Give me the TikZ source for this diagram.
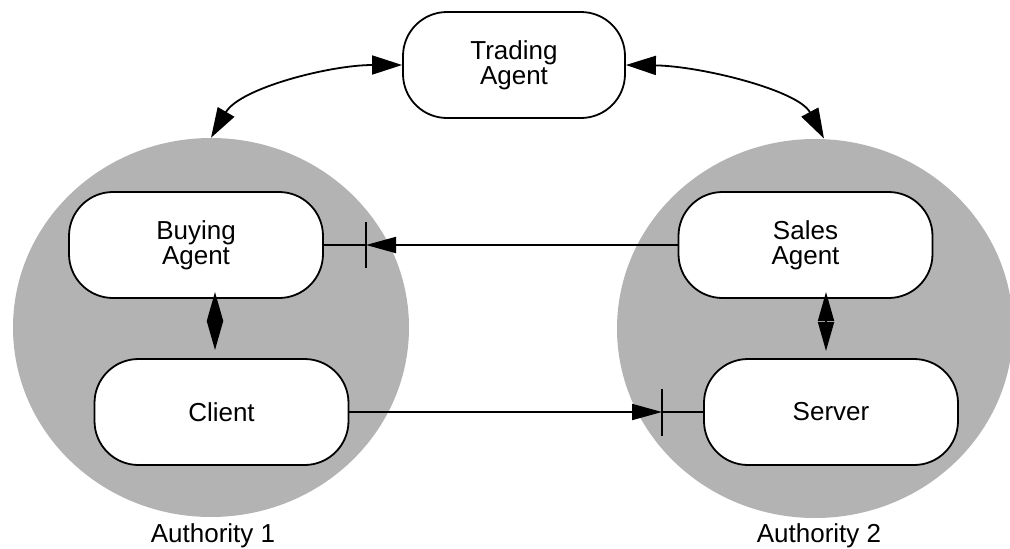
\documentclass[tikz,border=0pt]{standalone}
\usepackage{fontspec}
\setmainfont{Liberation Sans}
\usetikzlibrary{arrows.meta,shapes.geometric}
\definecolor{authgray}{RGB}{179,179,179}
\begin{document}
\begin{tikzpicture}[x=1pt,y=-1pt,
  agentbox/.style={draw, line width=1.8pt, fill=white, rounded corners=44pt,
    minimum width=254pt, minimum height=106pt, inner sep=0pt, align=center,
    font=\fontsize{26}{25}\selectfont},
  authority/.style={ellipse, fill=authgray, minimum width=396pt,
    minimum height=379pt, inner sep=0pt},
  caption/.style={font=\fontsize{26}{25}\selectfont, inner sep=0pt},
  link/.style={line width=1.8pt},
  onehead/.style={link, -{Triangle[length=30pt,width=16pt]}},
  twohead/.style={link, {Triangle[length=29pt,width=16pt]}-{Triangle[length=29pt,width=16pt]}},
  curvehead/.style={link, {Triangle[length=30pt,width=19pt]}-{Triangle[length=30pt,width=19pt]}},
  tickmark/.style={line width=1.8pt}
]
\useasboundingbox (0,0) rectangle (1010,549);

% the two authorities
\node[authority] (auth1) at (211,327.5) {};
\node[authority] (auth2) at (815,328.5) {};
\node[caption] (lab1) at (213,536) {Authority 1};
\node[caption] (lab2) at (819,536) {Authority 2};

% agents and endpoints
\node[agentbox, minimum width=222pt] (trading) at (514,65) {Trading\\Agent};
\node[agentbox] (buying) at (196,245) {Buying\\Agent};
\node[agentbox] (client) at (221.5,412) {Client};
\node[agentbox] (sales) at (805.5,245) {Sales\\Agent};
\node[agentbox] (server) at (831,412) {Server};

% points where the links meet
\coordinate (auth2top) at (824,138.5);
\coordinate (tickA) at (366,245);
\coordinate (tickB) at (662,412);
\coordinate (bcTop) at (215,292);
\coordinate (bcBot) at (215,350);
\coordinate (ssTop) at (826,292);
\coordinate (ssBot) at (826,351);

% trading agent links
\draw[curvehead] (trading.west) .. controls (330,65) and (240,88) .. (auth1.north);
\draw[curvehead] (trading.east) .. controls (700,66) and (798,90) .. (auth2top);

% sales agent to buying agent
\draw[onehead] (sales.west) -- (tickA);
\draw[link] (tickA) -- (buying.east);
\draw[tickmark] (tickA) ++(0,-23) -- ++(0,46);

% client to server
\draw[onehead] (client.east) -- (tickB);
\draw[link] (tickB) -- (server.west);
\draw[tickmark] (tickB) ++(0,-23.5) -- ++(0,47);

% local links inside each authority
\draw[twohead] (bcTop) -- (bcBot);
\draw[twohead] (ssTop) -- (ssBot);
\end{tikzpicture}
\end{document}
